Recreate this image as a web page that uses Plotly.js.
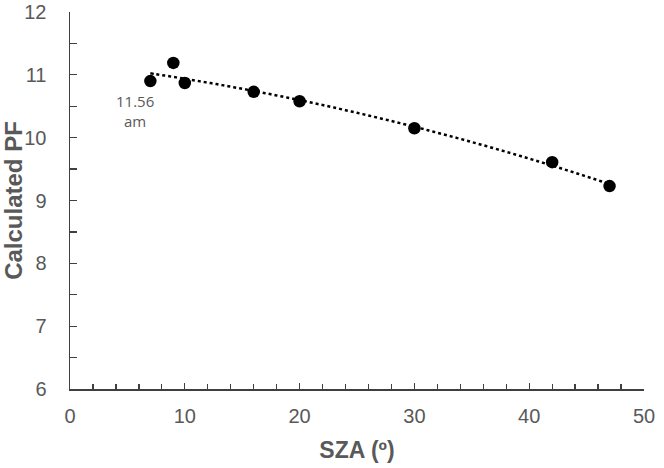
<!DOCTYPE html>
<html><head><meta charset="utf-8">
<script src="https://cdn.plot.ly/plotly-3.0.1.min.js"></script>
<style>html,body{margin:0;padding:0;background:#fff}#c{width:664px;height:468px}</style>
</head><body><div id="c"></div>
<script>
const sza = [7, 9, 10, 16, 20, 30, 42, 47];
const pf = [10.90, 11.19, 10.87, 10.73, 10.58, 10.15, 9.61, 9.23];
const xTicks = [0, 10, 20, 30, 40, 50];
const yTicks = [6, 7, 8, 9, 10, 11, 12];
const noteText = '11.56<br>am';

// Quadratic least-squares trendline (as spreadsheet polynomial trendline)
function polyfit2(x, y) {
  let S = [0,0,0,0,0], T = [0,0,0];
  for (let i = 0; i < x.length; i++) {
    let p = 1;
    for (let k = 0; k < 5; k++) { S[k] += p; if (k < 3) T[k] += p * y[i]; p *= x[i]; }
  }
  const A = [[S[0],S[1],S[2],T[0]],[S[1],S[2],S[3],T[1]],[S[2],S[3],S[4],T[2]]];
  for (let i = 0; i < 3; i++) {
    for (let j = i+1; j < 3; j++) {
      const f = A[j][i]/A[i][i];
      for (let k = i; k < 4; k++) A[j][k] -= f*A[i][k];
    }
  }
  const c = [0,0,0];
  for (let i = 2; i >= 0; i--) {
    let s = A[i][3];
    for (let k = i+1; k < 3; k++) s -= A[i][k]*c[k];
    c[i] = s/A[i][i];
  }
  return c;
}
const cf = polyfit2(sza, pf);
const xmin = Math.min(...sza), xmax = Math.max(...sza);
const tx = [], ty = [];
for (let i = 0; i <= 80; i++) {
  const xv = xmin + (xmax - xmin) * i / 80;
  tx.push(xv); ty.push(cf[0] + cf[1]*xv + cf[2]*xv*xv);
}

const grey = '#595959';
const axisCol = '#404040';
const data = [
  {x: tx, y: ty, mode: 'lines', line: {color: '#000', width: 2.5, dash: 'dot', shape: 'spline'}, hoverinfo: 'skip', showlegend: false},
  {x: sza, y: pf, mode: 'markers', marker: {color: '#000', size: 12.5}, showlegend: false}
];
const layout = {
  width: 664, height: 468,
  margin: {l: 70, r: 20, t: 12, b: 79},
  paper_bgcolor: '#fff', plot_bgcolor: '#fff',
  font: {family: 'Liberation Sans, Arial, sans-serif', color: grey},
  xaxis: {
    range: [0, 50], tickvals: xTicks, ticks: 'inside', ticklen: 6, tickwidth: 1.3, tickcolor: axisCol,
    minor: {dtick: 2, tick0: 0, ticks: 'inside', ticklen: 5, tickwidth: 1.3, tickcolor: axisCol},
    showline: true, linecolor: axisCol, linewidth: 1.5, showgrid: false, zeroline: false,
    tickfont: {size: 20, color: grey}, ticklabelstandoff: 8,
    automargin: false,
    title: {text: 'SZA (º)', font: {size: 23, color: grey, weight: 'bold'}, standoff: 16}
  },
  yaxis: {
    range: [6, 12], tickvals: yTicks, ticks: 'inside', ticklen: 7, tickwidth: 1.3, tickcolor: axisCol,
    minor: {dtick: 0.5, tick0: 6, ticks: 'inside', ticklen: 7, tickwidth: 1.3, tickcolor: axisCol},
    showline: true, linecolor: axisCol, linewidth: 1.5, showgrid: false, zeroline: false,
    tickfont: {size: 20, color: grey}, ticklabelstandoff: 18,
    automargin: false,
    title: {text: 'Calculated PF', font: {size: 24, color: grey, weight: 'bold'}, standoff: 10}
  },
  annotations: [{
    x: sza[0], y: pf[0], xref: 'x', yref: 'y', text: noteText, showarrow: false,
    xanchor: 'center', yanchor: 'top', xshift: -15, yshift: -8,
    font: {family: 'Open Sans, sans-serif', size: 15, color: grey}, align: 'center'
  }]
};
Plotly.newPlot('c', data, layout, {displayModeBar: false, staticPlot: true});
</script>
</body></html>
